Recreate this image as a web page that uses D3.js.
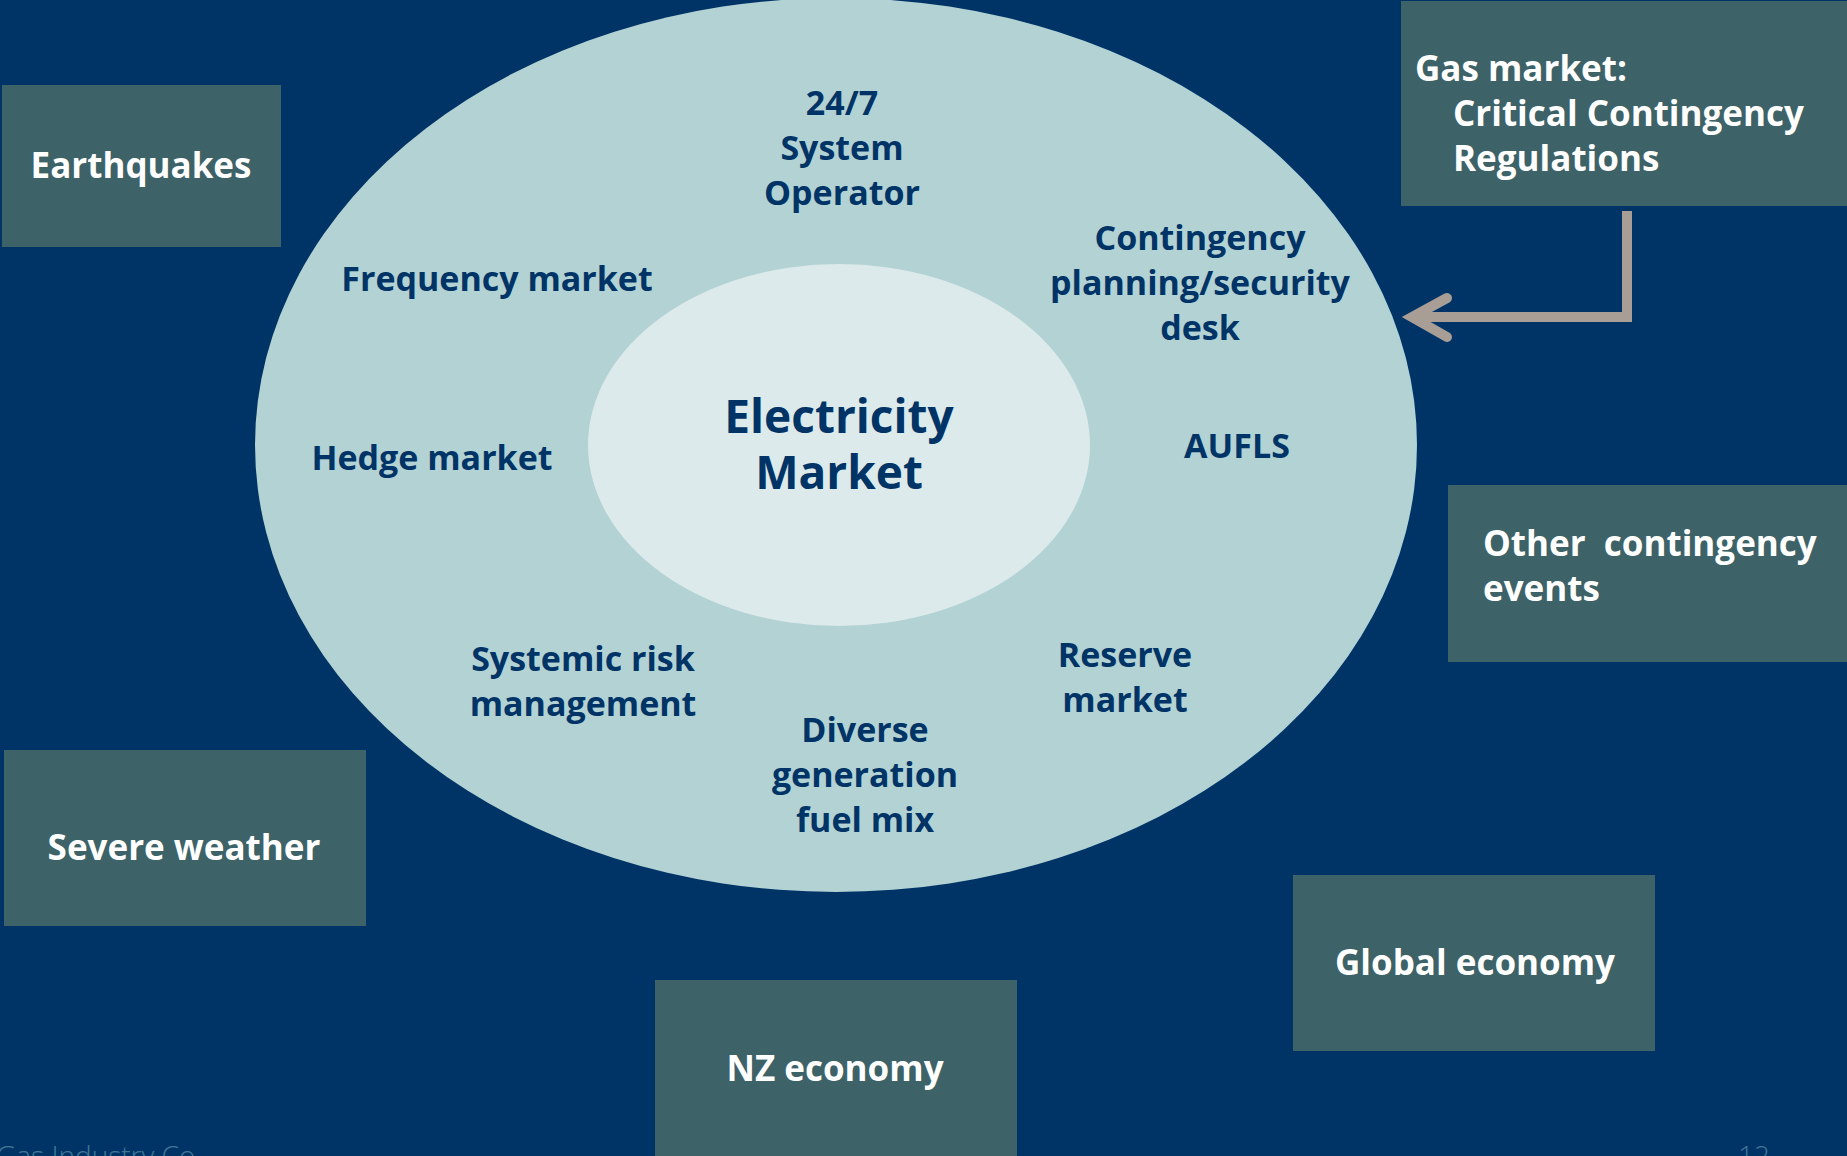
<!doctype html>
<html>
  <head>
    <script src="https://cdnjs.cloudflare.com/ajax/libs/d3/7.8.5/d3.min.js"></script>
    <style>
      body { margin: 0; background: #003466; }
      svg { display: block; font-family: "Open Sans", "Noto Sans", sans-serif; }
      text.ring { fill: #003466; font-weight: 700; font-size: 34px; text-anchor: middle; }
      text.core { fill: #003466; font-weight: 700; font-size: 46px; text-anchor: middle; }
      text.box { fill: #ffffff; font-weight: 700; font-size: 35px; }
      rect.box { fill: #3d6268; }
      text.footer { fill: #3f7896; font-weight: 300; font-size: 28px; }
    </style>
  </head>
  <body>
    <svg width="1847" height="1156"></svg>
    <script>
      // labels inside the outer ring
      var ringLabels = [
        ["24/7", "System", "Operator"],
        ["Frequency market"],
        ["Contingency", "planning/security", "desk"],
        ["Hedge market"],
        ["AUFLS"],
        ["Systemic risk", "management"],
        ["Reserve", "market"],
        ["Diverse", "generation", "fuel mix"]
      ];
      var coreLabel = ["Electricity", "Market"];

      // external influences (boxes)
      var boxLabels = [
        ["Earthquakes"],
        ["Gas market:", "Critical Contingency", "Regulations"],
        ["Other  contingency", "events"],
        ["Severe weather"],
        ["Global economy"],
        ["NZ economy"]
      ];
      var footerLabels = ["Gas Industry Co", "12"];

      // layout
      var ringPos = [[842, 115], [497, 291], [1200, 250], [432, 470], [1237, 458], [583, 671], [1125, 667], [865, 742]];
      var boxRects = [
        [2, 85, 279, 162], [1401, 1, 446, 205], [1448, 485, 399, 177],
        [4, 750, 362, 176], [1293, 875, 362, 176], [655, 980, 362, 176]
      ];
      var boxText = [
        { x: 141, y: 178, anchor: "middle", indent: 0 },
        { x: 1415, y: 81, anchor: "start", indent: 38 },
        { x: 1483, y: 556, anchor: "start", indent: 0 },
        { x: 184, y: 860, anchor: "middle", indent: 0 },
        { x: 1475, y: 975, anchor: "middle", indent: 0 },
        { x: 835, y: 1081, anchor: "middle", indent: 0 }
      ];
      var lineH = 45;

      var svg = d3.select("svg");

      svg.append("ellipse")
        .attr("cx", 836).attr("cy", 445).attr("rx", 581).attr("ry", 447)
        .attr("fill", "#b3d2d4");
      svg.append("ellipse")
        .attr("cx", 839).attr("cy", 445).attr("rx", 251).attr("ry", 181)
        .attr("fill", "#dceaeb");

      function multiline(sel, lines, lh, indent) {
        var x0 = +sel.attr("x");
        sel.selectAll("tspan").data(lines).enter().append("tspan")
          .attr("x", (d, i) => i ? x0 + (indent || 0) : x0)
          .attr("dy", (d, i) => i ? lh : 0)
          .style("white-space", "pre")
          .text(d => d);
      }

      ringLabels.forEach((lines, i) => {
        var t = svg.append("text").attr("class", "ring")
          .attr("x", ringPos[i][0]).attr("y", ringPos[i][1]);
        multiline(t, lines, lineH);
      });

      var c = svg.append("text").attr("class", "core").attr("x", 839).attr("y", 433);
      multiline(c, coreLabel, 56);

      boxLabels.forEach((lines, i) => {
        var r = boxRects[i];
        svg.append("rect").attr("class", "box")
          .attr("x", r[0]).attr("y", r[1]).attr("width", r[2]).attr("height", r[3]);
        var t = svg.append("text").attr("class", "box")
          .attr("x", boxText[i].x).attr("y", boxText[i].y)
          .attr("text-anchor", boxText[i].anchor);
        multiline(t, lines, lineH, boxText[i].indent);
      });

      // arrow from gas market box to the ring
      var line = d3.line();
      svg.append("path")
        .attr("d", line([[1627, 211], [1627, 317], [1414, 317]]))
        .attr("fill", "none").attr("stroke", "#a89e96").attr("stroke-width", 10);
      svg.append("path")
        .attr("d", line([[1447, 298], [1412, 317], [1447, 337]]))
        .attr("fill", "none").attr("stroke", "#a89e96").attr("stroke-width", 10)
        .attr("stroke-linecap", "round").attr("stroke-linejoin", "miter");

      svg.append("text").attr("class", "footer").attr("x", -4).attr("y", 1166).text(footerLabels[0]);
      svg.append("text").attr("class", "footer").attr("x", 1754).attr("y", 1166)
        .attr("text-anchor", "middle").text(footerLabels[1]);
    </script>
  </body>
</html>
